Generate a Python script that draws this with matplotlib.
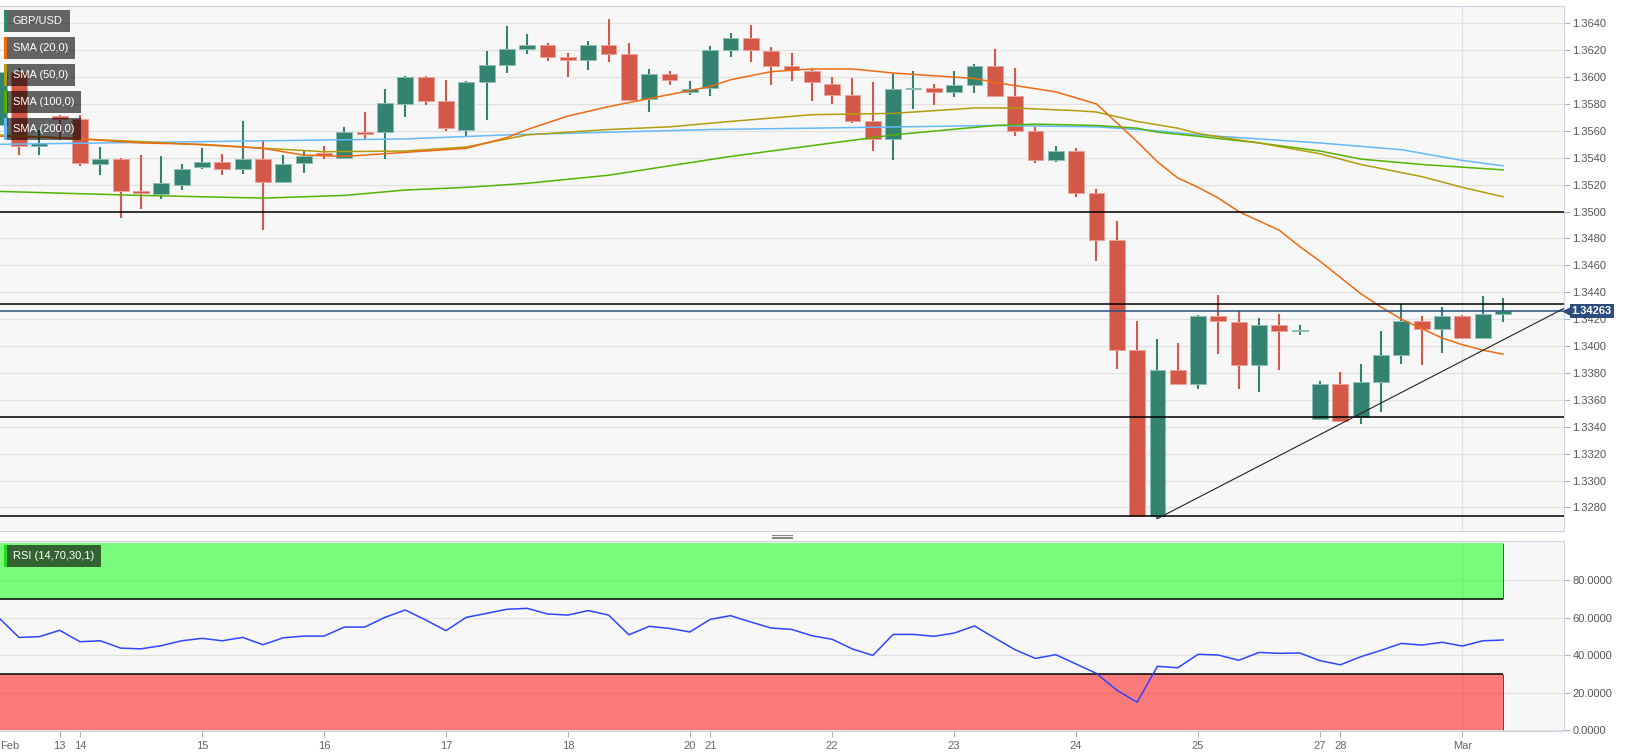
import matplotlib
matplotlib.use('Agg')
import matplotlib.pyplot as plt
import matplotlib.transforms as mtrans
from matplotlib.patches import Rectangle
from matplotlib.lines import Line2D
import numpy as np

plt.rcParams['font.family'] = ['Liberation Sans', 'DejaVu Sans']

# GBP/USD 4H candles, 11 Feb -> 1 Mar
opens = [1.3564, 1.3604, 1.3549, 1.3571, 1.3569, 1.3535, 1.3539, 1.3515, 1.3513, 1.3520,
         1.3533, 1.3537, 1.3532, 1.3539, 1.3522, 1.3536, 1.3543, 1.3540, 1.35595, 1.3559,
         1.3580, 1.3600, 1.3582, 1.3561, 1.3596, 1.3609, 1.3621, 1.3624, 1.3615, 1.3613,
         1.3624, 1.3617, 1.3584, 1.3602, 1.3589, 1.3592, 1.3620, 1.3629, 1.3619, 1.3608,
         1.36045, 1.3595, 1.3587, 1.3567, 1.3554, 1.3591, 1.3592, 1.3589, 1.3594, 1.3608,
         1.3586, 1.3560, 1.3538, 1.3545, 1.3514, 1.3479, 1.3397, 1.3274, 1.3382, 1.3372,
         1.3422, 1.3418, 1.3386, 1.3416, 1.3411, 1.3346, 1.3372, 1.3347, 1.3373, 1.3393,
         1.3419, 1.3413, 1.3422, 1.3406, 1.3424]
highs = [1.3608, 1.3607, 1.3561, 1.3572, 1.3572, 1.3548, 1.3540, 1.3542, 1.3541, 1.3535,
         1.3547, 1.3543, 1.3567, 1.3553, 1.3542, 1.3545, 1.3549, 1.3563, 1.3574, 1.3591,
         1.3601, 1.3601, 1.3598, 1.3597, 1.3619, 1.3638, 1.3632, 1.3625, 1.3618, 1.3627,
         1.3643, 1.3625, 1.3606, 1.36045, 1.3597, 1.3623, 1.3633, 1.3639, 1.3622, 1.3618,
         1.36065, 1.3600, 1.3599, 1.3596, 1.3602, 1.36045, 1.3595, 1.36045, 1.3610, 1.3621,
         1.36065, 1.3563, 1.3549, 1.3547, 1.3517, 1.3493, 1.3419, 1.3405, 1.3402, 1.3423,
         1.3438, 1.3426, 1.3421, 1.3424, 1.3416, 1.3374, 1.3381, 1.3387, 1.3411, 1.3431,
         1.3422, 1.3429, 1.3423, 1.3437, 1.34355]
lows = [1.3558, 1.3542, 1.3542, 1.3553, 1.3534, 1.3527, 1.3495, 1.3502, 1.3509, 1.3516,
        1.3532, 1.3527, 1.3528, 1.3486, 1.3521, 1.3529, 1.3539, 1.3539, 1.3553, 1.3539,
        1.3570, 1.3579, 1.3560, 1.3556, 1.3568, 1.3603, 1.3617, 1.3612, 1.3600, 1.3605,
        1.3611, 1.3582, 1.3574, 1.3594, 1.3587, 1.3586, 1.3615, 1.3611, 1.3594, 1.3597,
        1.3582, 1.3580, 1.3566, 1.3545, 1.3538, 1.3576, 1.3579, 1.3585, 1.3588, 1.3585,
        1.3556, 1.3536, 1.3537, 1.3511, 1.3463, 1.3383, 1.3274, 1.32717, 1.3371, 1.3368,
        1.3394, 1.3368, 1.3366, 1.3382, 1.3408, 1.3346, 1.3344, 1.3342, 1.3351, 1.3387,
        1.3386, 1.3395, 1.34055, 1.3405, 1.3418]
closes = [1.3604, 1.3549, 1.3551, 1.3569, 1.3536, 1.3539, 1.3515, 1.3514, 1.3521, 1.3532,
          1.3537, 1.3532, 1.3539, 1.3522, 1.3535, 1.3541, 1.3542, 1.3559, 1.3558, 1.3581,
          1.3600, 1.3582, 1.3562, 1.3596, 1.3609, 1.3621, 1.3624, 1.3615, 1.3613, 1.3624,
          1.3617, 1.3583, 1.3602, 1.3598, 1.3591, 1.3620, 1.3629, 1.3620, 1.3608, 1.3605,
          1.3596, 1.3587, 1.3567, 1.3554, 1.3591, 1.3592, 1.3589, 1.3594, 1.3608, 1.3586,
          1.3560, 1.3538, 1.3545, 1.3514, 1.3479, 1.3397, 1.3274, 1.3382, 1.3372, 1.3422,
          1.3419, 1.3386, 1.3416, 1.3411, 1.3412, 1.3372, 1.3344, 1.3373, 1.3393, 1.3419,
          1.3413, 1.3422, 1.3406, 1.3424, 1.34263]

rsi = [59.9, 49.4, 49.8, 53.2, 47.1, 47.6, 43.7, 43.3, 45.0, 47.6,
       48.9, 47.6, 49.4, 45.5, 49.2, 50.1, 50.1, 54.9, 54.9, 60.1,
       64.0, 58.7, 53.0, 60.1, 62.2, 64.4, 64.9, 61.9, 61.3, 63.7,
       61.3, 50.8, 55.3, 54.2, 52.3, 59.0, 61.0, 57.6, 54.4, 53.7,
       50.3, 48.4, 43.2, 39.8, 51.0, 51.0, 50.0, 51.7, 55.5, 49.1,
       42.8, 38.2, 40.2, 35.2, 30.2, 21.3, 14.8, 34.0, 33.2, 40.4,
       40.0, 37.2, 41.4, 40.9, 41.1, 37.0, 34.8, 39.1, 42.5, 46.2,
       45.3, 46.8, 44.8, 47.6, 48.0]

# moving averages (candle index, value)
sma20_idx = [0, 3, 7, 10, 13, 15, 17, 19, 20, 23, 25, 26, 28, 30, 31, 33, 35, 36, 38, 40,
             42, 44, 48, 49, 52, 54, 55, 56, 57, 58, 59, 60, 61, 62, 63, 64, 65, 66, 67, 68,
             69, 70, 71, 72, 73, 74]
sma20 = [1.3556, 1.3555, 1.3551, 1.3550, 1.3547, 1.3542, 1.3541, 1.3543, 1.3544, 1.3547,
         1.3555, 1.3561, 1.3571, 1.3578, 1.3581, 1.3587, 1.3593, 1.3598, 1.3604, 1.3606,
         1.3606, 1.3603, 1.3599, 1.3596, 1.3589, 1.3580, 1.3566, 1.3552, 1.3537, 1.3525,
         1.3518, 1.3510, 1.3500, 1.3493, 1.3486, 1.3474, 1.3463, 1.3451, 1.3439, 1.3429,
         1.3420, 1.3413, 1.3406, 1.3401, 1.3397, 1.3394]
sma50_idx = [0, 4, 7, 12, 16, 20, 23, 26, 30, 33, 36, 40, 44, 48, 50, 53, 54, 56, 58, 59,
             62, 65, 67, 70, 72, 74]
sma50 = [1.3557, 1.3554, 1.3552, 1.3548, 1.35445, 1.3545, 1.3548, 1.3557, 1.3561, 1.3563,
         1.3567, 1.3572, 1.3573, 1.3577, 1.3577, 1.3575, 1.3574, 1.3567, 1.3562, 1.3558,
         1.3551, 1.3543, 1.3535, 1.3526, 1.3518, 1.3511]
sma100_idx = [0, 7, 13, 17, 20, 23, 26, 30, 33, 36, 40, 44, 49, 51, 54, 56, 57, 59, 62, 65,
              67, 70, 72, 74]
sma100 = [1.3515, 1.3512, 1.3510, 1.3512, 1.3516, 1.3518, 1.3521, 1.3527, 1.3534, 1.3541,
          1.3549, 1.3557, 1.3564, 1.3565, 1.3564, 1.3562, 1.3559, 1.3556, 1.3551, 1.3545,
          1.3539, 1.3535, 1.3533, 1.3531]
sma200_idx = [0, 10, 20, 25, 30, 35, 40, 49, 54, 57, 59, 62, 65, 69, 72, 74]
sma200 = [1.3550, 1.3552, 1.3554, 1.3557, 1.3559, 1.3561, 1.3562, 1.3564, 1.3563, 1.3560,
          1.3557, 1.3554, 1.3551, 1.3546, 1.3538, 1.3534]

levels = [1.3500, 1.3431, 1.3347, 1.32735]
trend_x = [57, 77]
trend_y = [1.32717, 1.3428]

day_pos = [3, 4, 10, 16, 22, 28, 34, 35, 41, 47, 53, 59, 65, 66, 72]
day_labels = ['13', '14', '15', '16', '17', '18', '20', '21', '22', '23', '24', '25',
              '27', '28', 'Mar']
month_start = 72

W, H = 1631, 755
fig = plt.figure(figsize=(W / 100, H / 100), dpi=100)
fig.patch.set_facecolor('white')


def fx(px):
    return px / W


def fy(py):
    return 1 - py / H


ax = fig.add_axes([0, fy(531), fx(1564), (531 - 5.5) / H])
ax2 = fig.add_axes([0, fy(731), fx(1564), (731 - 541) / H], sharex=ax)

bg = '#f7f7f7'
grid_c = '#e1e1e1'
spine_c = '#cdd3e3'
xlo, xhi = 0.064, 77.0

for a in (ax, ax2):
    a.set_facecolor(bg)
    a.set_axisbelow(True)
    a.grid(axis='y', color=grid_c, lw=0.9)
    a.axvline(month_start, color=grid_c, lw=0.9, zorder=0.6)
    for s in a.spines.values():
        s.set_color(spine_c)
    a.spines['left'].set_visible(False)
    a.yaxis.tick_right()
    a.tick_params(axis='y', length=4, color='#a9b0c3', labelcolor='#555555',
                  labelsize=8, pad=2)

# candles
x = np.arange(len(opens))
o = np.array(opens)
c = np.array(closes)
up = c >= o
body_col = np.where(up, '#338370', '#d45848')
edge_col = np.where(up, '#8fc0b3', '#eca197')
ax.vlines(x, lows, highs, colors=body_col, lw=1.5, zorder=2)
ax.bar(x, np.maximum(np.abs(c - o), 0.00012), 0.78, bottom=np.minimum(o, c),
       color=body_col, edgecolor=edge_col, linewidth=0.7, zorder=3)

ax.plot(sma200_idx, sma200, color='#64b9fa', lw=1.1, zorder=4)
ax.plot(sma100_idx, sma100, color='#52b400', lw=1.1, zorder=4)
ax.plot(sma50_idx, sma50, color='#b09c0c', lw=1.1, zorder=4)
ax.plot(sma20_idx, sma20, color='#ee6a12', lw=1.1, zorder=4)

for lv in levels:
    ax.axhline(lv, color='black', lw=1.1, zorder=5)
ax.axhline(closes[-1], color='#2b5084', lw=1.1, zorder=5)
ax.plot(trend_x, trend_y, color='#222222', lw=0.8, zorder=5)

ax.set_xlim(xlo, xhi)
ax.set_ylim(1.32625, 1.36532)
ax.set_yticks(np.round(np.arange(1.3280, 1.3641, 0.002), 4))
ax.yaxis.set_major_formatter(plt.FormatStrFormatter('%.4f'))
ax.tick_params(axis='x', bottom=False, labelbottom=False)

# last price tag
trans = mtrans.blended_transform_factory(ax.transAxes, ax.transData)
ax.plot([1.003], [closes[-1]], marker='<', ms=8, color='#2b4c7e', transform=trans,
        clip_on=False, zorder=10)
ax.text(1.0048, closes[-1], f'{closes[-1]:.5f}', transform=trans, ha='left', va='center',
        color='white', fontsize=8, fontweight='bold', zorder=11, clip_on=False,
        bbox=dict(boxstyle='square,pad=0.18', fc='#2b4c7e', ec='none'))

# RSI panel
last = x[-1]
ax2.fill_between([xlo, last], 70, 100, color='#00ff00', alpha=0.5, lw=0, zorder=1)
ax2.fill_between([xlo, last], 0, 30, color='#ff0000', alpha=0.5, lw=0, zorder=1)
ax2.hlines([70, 30], xlo, last, color='#111111', lw=1.2, zorder=2)
ax2.vlines([last, last], [70, 0], [100, 30], color='#333333', lw=0.6, zorder=2)
ax2.plot(x, rsi, color='#2f45ff', lw=1.1, zorder=3)
ax2.set_ylim(-0.5, 100.8)
ax2.set_yticks([0, 20, 40, 60, 80])
ax2.yaxis.set_major_formatter(plt.FormatStrFormatter('%.4f'))
ax2.set_xticks(day_pos)
ax2.set_xticklabels(day_labels)
ax2.tick_params(axis='x', length=4, color='#a9b0c3', labelcolor='#666666',
                labelsize=8, pad=3)
xtr = mtrans.blended_transform_factory(ax2.transData, ax2.transAxes)
ax2.text(xlo, -0.051, 'Feb', transform=xtr, ha='left', va='top', fontsize=8,
         color='#666666', clip_on=False)


# legend tags
def tag(x0, y0, w, text, strip):
    fig.add_artist(Rectangle((fx(x0), fy(y0 + 22)), fx(w), 22 / H,
                             transform=fig.transFigure, fc='black', alpha=0.6, ec='none'))
    fig.add_artist(Rectangle((fx(x0), fy(y0 + 22)), fx(3), 22 / H,
                             transform=fig.transFigure, fc=strip, ec='none'))
    fig.text(fx(x0 + 9), fy(y0 + 11), text, color='white', fontsize=8,
             ha='left', va='center')


tags = [('GBP/USD', '#2f8a73', 66), ('SMA (20,0)', '#ee6a12', 71),
        ('SMA (50,0)', '#b09c0c', 71), ('SMA (100,0)', '#52b400', 77),
        ('SMA (200,0)', '#64b9fa', 77)]
for k, (name, col, w) in enumerate(tags):
    tag(4, 10 + 27 * k, w, name, col)
tag(4, 545, 97, 'RSI (14,70,30,1)', '#22dd22')

# panel resize handle
for yy in (535, 536.5, 538):
    fig.add_artist(Line2D([fx(772), fx(792)], [fy(yy), fy(yy)], color='#888888', lw=0.8))

fig.savefig('out.png', dpi=100, facecolor='white')
